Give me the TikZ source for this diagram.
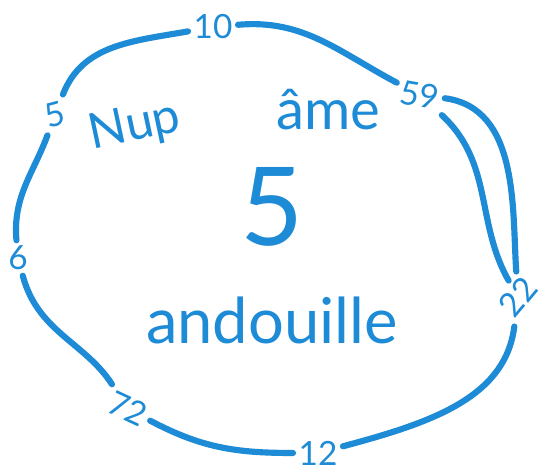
\documentclass[tikz,border=0pt]{standalone}
\usepackage{fontspec}
\setmainfont{Lato}
\usepackage{xcolor}
\usetikzlibrary{positioning}
\definecolor{marker}{HTML}{1E8BD6}
\tikzstyle{lbl}  = [text=marker, font=\fontsize{19}{19}\selectfont, inner sep=3pt]
\tikzstyle{word} = [text=marker, inner sep=0pt]
\tikzstyle{ring} = [draw=marker, line width=3.5pt, line cap=round]

\begin{document}
\begin{tikzpicture}[x=0.02cm, y=0.02cm]
  \useasboundingbox (0,0) rectangle (548,475);
  % numbers round the ring
  \node (n10) [lbl]            at (213,448) {10};
  \node (n59) [lbl, rotate=-10] at (420,380) {59};
  \node (n22) [lbl, rotate=50]  at (518,178) {22};
  \node (n12) [lbl]            at (318,22)  {12};
  \node (n72) [lbl, rotate=-25] at (128,66)  {72};
  \node (n6)  [lbl]            at (18,217)  {6};
  \node (n5)  [lbl, rotate=15]  at (55,360)  {5};
  % words inside
  \node (nup)  [word, rotate=12, font=\fontsize{28}{28}\selectfont] at (135,348) {Nup};
  \node (ame)  [word, font=\fontsize{32}{32}\selectfont] at (328,365) {âme};
  \node (five) [word, font=\fontsize{62}{62}\selectfont] at (272,268) {5};
  \node (andouille) [word, font=\fontsize{36}{36}\selectfont] at (272,155) {andouille};
  % the ring
  \draw [ring] (n5)  to[out=65,  in=190] (n10);
  \draw [ring] (n10) to[out=5,   in=155] (n59);
  \draw [ring] (n59) to[out=-5,  in=85]  (n22);
  \draw [ring] (n59) to[out=-40, in=110] (n22);
  \draw [ring] (n22) to[out=-105, in=15] (n12);
  \draw [ring] (n12) to[out=180, in=-20] (n72);
  \draw [ring] (n72) to[out=130, in=-75] (n6);
  \draw [ring] (n6)  to[out=95,  in=245] (n5);
\end{tikzpicture}
\end{document}
